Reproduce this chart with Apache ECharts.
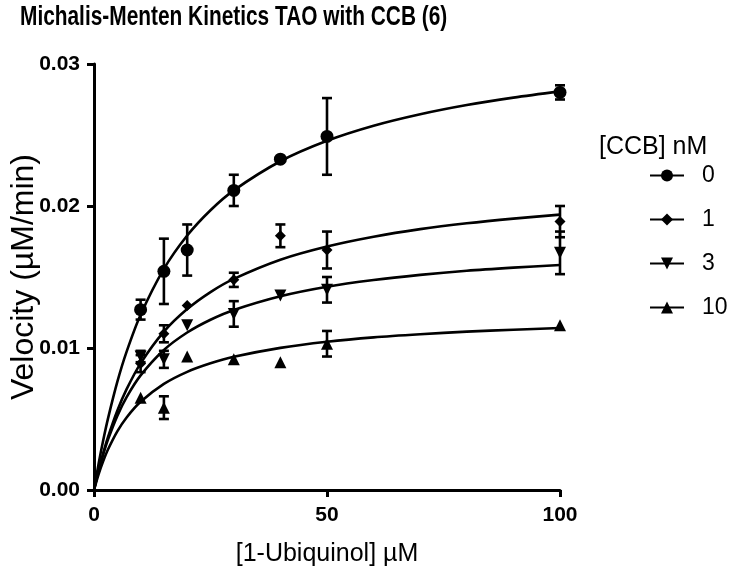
<!DOCTYPE html>
<html>
<head>
<meta charset="utf-8">
<script src="https://cdn.jsdelivr.net/npm/echarts@6/dist/echarts.min.js"></script>
<style>
html,body{margin:0;padding:0;background:#fff;}
#chart{width:742px;height:573px;}
</style>
</head>
<body>
<div id="chart"></div>
<script>
// ---- data ----
const concentrations = ['0', '1', '3', '10'];          // [CCB] nM
const substrate = [10, 15, 20, 30, 40, 50, 100];       // [1-Ubiquinol] µM
const velocity0  = [0.0127, 0.0154, 0.0169, 0.0211, 0.0233, 0.0249, 0.0280];
const error0     = [0.0007, 0.0023, 0.0018, 0.0011, 0,      0.0027, 0.0005];
const velocity1  = [0.0089, 0.0110, 0.0130, 0.0148, 0.0179, 0.0169, 0.0189];
const error1     = [0.0006, 0.0006, 0,      0.0005, 0.0008, 0.0013, 0.0011];
const velocity3  = [0.0094, 0.0092, 0.0116, 0.0124, 0.0137, 0.0141, 0.0167];
const error3     = [0.0004, 0.0006, 0,      0.0009, 0,      0.0009, 0.0015];
const velocity10 = [0.0065, 0.0058, 0.0094, 0.0092, 0.0090, 0.0103, 0.0116];
const error10    = [0,      0.0008, 0,      0,      0,      0.0009, 0];
// fitted curves
const curveX = [0, 1, 2, 3, 5, 7, 10, 15, 20, 25, 30, 40, 50, 60, 70, 80, 90, 100];
const curve0  = [0, 0.00187, 0.00354, 0.00503, 0.00761, 0.00974, 0.01234, 0.01557, 0.01792, 0.01970, 0.02110, 0.02315, 0.02459, 0.02565, 0.02646, 0.02711, 0.02763, 0.02807];
const curve1  = [0, 0.00139, 0.00262, 0.00372, 0.00558, 0.00710, 0.00892, 0.01115, 0.01274, 0.01394, 0.01487, 0.01622, 0.01715, 0.01784, 0.01837, 0.01878, 0.01911, 0.01939];
const curve3  = [0, 0.00137, 0.00254, 0.00355, 0.00522, 0.00654, 0.00807, 0.00986, 0.01109, 0.01199, 0.01268, 0.01365, 0.01432, 0.01479, 0.01515, 0.01544, 0.01566, 0.01585];
const curve10 = [0, 0.00112, 0.00205, 0.00285, 0.00413, 0.00511, 0.00621, 0.00747, 0.00832, 0.00892, 0.00938, 0.01001, 0.01044, 0.01075, 0.01097, 0.01115, 0.01129, 0.01141];
const xTicks = [0, 50, 100];
const yTicks = [0, 0.01, 0.02, 0.03];
const titleText = 'Michalis-Menten Kinetics TAO with CCB (6)';
const legendTitle = '[CCB] nM';

// ---- build ----
const FONT = "'Liberation Sans', Arial, sans-serif";
const groups = [
  {name: concentrations[0], v: velocity0,  e: error0,  c: curve0,  symbol: 'circle',   size: 13, rot: 0},
  {name: concentrations[1], v: velocity1,  e: error1,  c: curve1,  symbol: 'diamond',  size: 11, rot: 0},
  {name: concentrations[2], v: velocity3,  e: error3,  c: curve3,  symbol: 'triangle', size: 12, rot: 180},
  {name: concentrations[3], v: velocity10, e: error10, c: curve10, symbol: 'triangle', size: 12, rot: 0}
];

const series = [];
groups.forEach(g => {
  series.push({
    name: g.name, type: 'line', smooth: 0.3, showSymbol: false,
    symbol: g.symbol, symbolRotate: g.rot, symbolSize: g.size,
    lineStyle: {color: '#000', width: 2.6}, itemStyle: {color: '#000'},
    data: curveX.map((x, i) => [x, g.c[i]]), z: 2, silent: true
  });
});
groups.forEach(g => {
  series.push({
    name: 'err' + g.name, type: 'custom', z: 3, silent: true,
    data: substrate.map((x, i) => [x, g.v[i], g.e[i]]).filter(d => d[2] > 0),
    renderItem: function (params, api) {
      const x = api.value(0), y = api.value(1), e = api.value(2);
      const top = api.coord([x, y + e]);
      const bot = api.coord([x, y - e]);
      const hw = 5;
      const st = {stroke: '#000', lineWidth: 2.6};
      return {type: 'group', children: [
        {type: 'line', shape: {x1: top[0], y1: top[1], x2: bot[0], y2: bot[1]}, style: st},
        {type: 'line', shape: {x1: top[0] - hw, y1: top[1], x2: top[0] + hw, y2: top[1]}, style: st},
        {type: 'line', shape: {x1: bot[0] - hw, y1: bot[1], x2: bot[0] + hw, y2: bot[1]}, style: st}
      ]};
    }
  });
});
groups.forEach(g => {
  series.push({
    name: 'pts' + g.name, type: 'scatter', z: 4, silent: true,
    symbol: g.symbol, symbolRotate: g.rot, symbolSize: g.size,
    itemStyle: {color: '#000', opacity: 1},
    data: substrate.map((x, i) => [x, g.v[i]])
  });
});

const option = {
  animation: false,
  backgroundColor: '#fff',
  textStyle: {fontFamily: FONT, color: '#000'},
  graphic: [
    {type: 'text', x: 20, y: 3, scaleX: 0.745, silent: true,
     style: {text: titleText, fill: '#000', font: "bold 28px 'Liberation Sans', Arial, sans-serif",
             textVerticalAlign: 'top'}}
  ],
  title: [
    {text: legendTitle, left: 599, top: 135, padding: 0,
     textStyle: {fontFamily: FONT, fontWeight: 'normal', fontSize: 25, color: '#000'}}
  ],
  legend: {
    data: concentrations, orient: 'vertical', left: 649, top: 164, padding: 0,
    itemWidth: 34, itemHeight: 15, itemGap: 21,
    selectedMode: false,
    textStyle: {fontFamily: FONT, fontSize: 23, color: '#000', padding: [0, 0, 0, 13]}
  },
  grid: {left: 94, right: 182, top: 64, bottom: 83, containLabel: false, outerBoundsMode: 'none'},
  xAxis: {
    type: 'value', min: xTicks[0], max: xTicks[xTicks.length - 1], interval: xTicks[1] - xTicks[0],
    name: '[1-Ubiquinol] µM', nameLocation: 'middle', nameGap: 52, nameMoveOverlap: false,
    nameTextStyle: {fontFamily: FONT, fontSize: 25, color: '#000'},
    axisLine: {lineStyle: {color: '#000', width: 3}},
    axisTick: {show: true, length: 7, lineStyle: {color: '#000', width: 3}},
    axisLabel: {fontFamily: FONT, fontWeight: 'bold', fontSize: 21, color: '#000', margin: 15},
    splitLine: {show: false}
  },
  yAxis: {
    type: 'value', min: yTicks[0], max: yTicks[yTicks.length - 1], interval: yTicks[1] - yTicks[0],
    name: 'Velocity (µM/min)', nameLocation: 'middle', nameGap: 54, nameMoveOverlap: false,
    nameTextStyle: {fontFamily: FONT, fontSize: 32, color: '#000'},
    axisLine: {lineStyle: {color: '#000', width: 3}},
    axisTick: {show: true, length: 7, lineStyle: {color: '#000', width: 3}},
    axisLabel: {fontFamily: FONT, fontWeight: 'bold', fontSize: 21, color: '#000', margin: 14,
      formatter: v => v.toFixed(2)},
    splitLine: {show: false}
  },
  series: series
};
const chart = echarts.init(document.getElementById('chart'), null, {renderer: 'canvas'});
chart.setOption(option);
</script>
</body>
</html>
